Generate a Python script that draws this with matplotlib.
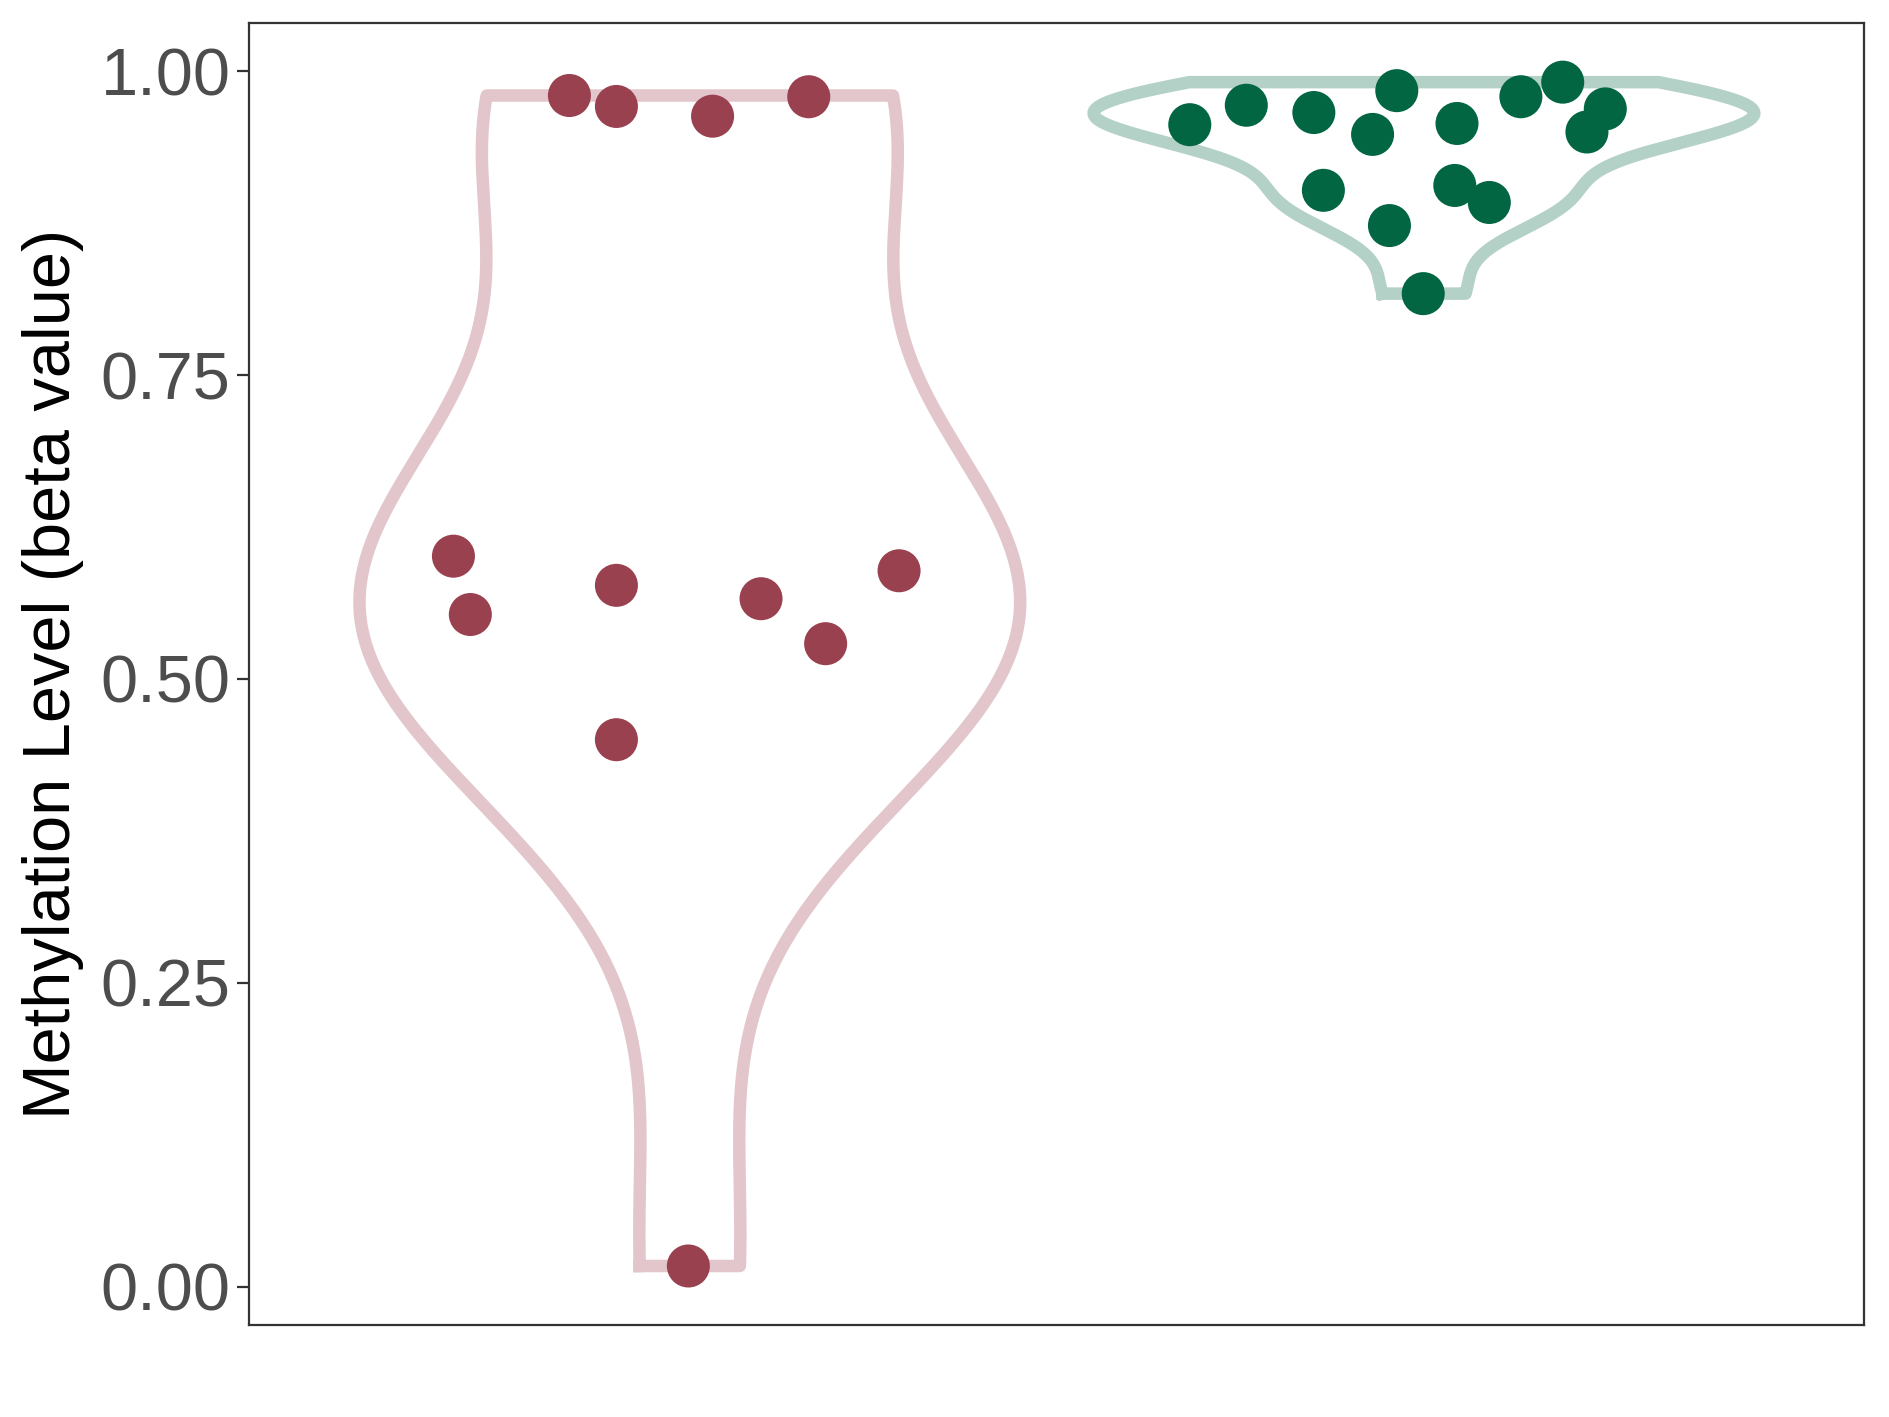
import numpy as np
import matplotlib
matplotlib.use("Agg")
import matplotlib.pyplot as plt

plt.rcParams['font.family'] = ['Liberation Sans', 'DejaVu Sans']

# valores de metilacion por grupo
grupo1 = [0.980, 0.971, 0.963, 0.979, 0.601, 0.553, 0.577, 0.566, 0.529, 0.589, 0.450, 0.017]
grupo1_x = [0.836, 0.900, 1.031, 1.162, 0.678, 0.701, 0.900, 1.097, 1.185, 1.285, 0.900, 0.998]
grupo2 = [0.956, 0.972, 0.966, 0.984, 0.948, 0.957, 0.979, 0.991, 0.969, 0.950,
          0.902, 0.906, 0.892, 0.873, 0.817]
grupo2_x = [1.681, 1.758, 1.850, 1.963, 1.930, 2.045, 2.132, 2.189, 2.247, 2.222,
            1.863, 2.042, 2.089, 1.953, 1.999]

col_punto = ['#9A4150', '#036643']
col_violin = ['#E2C6CB', '#B3D1C6']


def bw_nrd0(v):
    v = np.asarray(v)
    sd = v.std(ddof=1)
    iqr = np.subtract(*np.percentile(v, [75, 25]))
    lo = min(sd, iqr / 1.34)
    if lo == 0:
        lo = sd
    return 0.9 * lo * len(v) ** (-0.2)


def violin(ax, datos, pos, color, ancho=0.9):
    datos = np.asarray(datos)
    bw = bw_nrd0(datos)
    y = np.linspace(datos.min(), datos.max(), 512)
    dens = np.exp(-0.5 * ((y[:, None] - datos[None, :]) / bw) ** 2).sum(axis=1)
    w = dens / dens.max() * ancho / 2
    xs = np.concatenate([pos - w, (pos + w)[::-1], [pos - w[0]]])
    ys = np.concatenate([y, y[::-1], [y[0]]])
    ax.plot(xs, ys, color=color, lw=9, solid_joinstyle='round', zorder=1)


fig = plt.figure(figsize=(18.89, 14.17), dpi=100)
ax = fig.add_axes([0.132, 0.0648, 0.855, 0.919])

violin(ax, grupo1, 1, col_violin[0])
violin(ax, grupo2, 2, col_violin[1])
ax.scatter(grupo1_x, grupo1, s=960, color=col_punto[0], edgecolors='none', zorder=3)
ax.scatter(grupo2_x, grupo2, s=960, color=col_punto[1], edgecolors='none', zorder=3)

ax.set_xlim(0.4, 2.6)
ax.set_ylim(-0.0317, 1.0397)
ax.set_xticks([])
ax.set_yticks([0, 0.25, 0.5, 0.75, 1.0])
ax.set_yticklabels(['0.00', '0.25', '0.50', '0.75', '1.00'])
ax.tick_params(axis='y', labelsize=48, labelcolor='#4D4D4D', color='#333333',
               length=8.5, width=1.6, pad=5)
for s in ax.spines.values():
    s.set_color('#333333')
    s.set_linewidth(1.6)
ax.set_ylabel('Methylation Level (beta value)', fontsize=48, color='black', labelpad=12)

fig.savefig('out.png', dpi=100)
